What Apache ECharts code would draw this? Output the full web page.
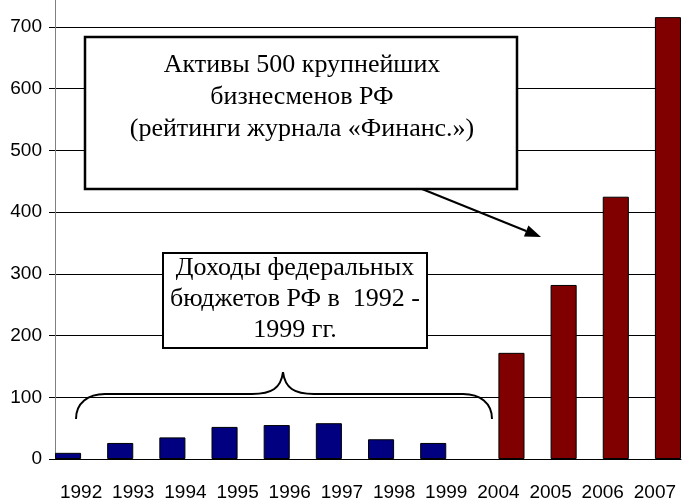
<!DOCTYPE html>
<html>
<head>
<meta charset="utf-8">
<script src="https://cdn.jsdelivr.net/npm/echarts@6/dist/echarts.min.js"></script>
<style>
  html, body { margin: 0; padding: 0; background: #fff; }
  #chart { width: 683px; height: 502px; }
</style>
</head>
<body>
<div id="chart"></div>
<script>
var years = ['1992', '1993', '1994', '1995', '1996', '1997', '1998', '1999', '2004', '2005', '2006', '2007'];
// доходы федерального бюджета, 1992-1999
var budget = [10, 26, 35, 52, 55, 58, 32, 26, '-', '-', '-', '-'];
// активы 500 крупнейших бизнесменов, 2004-2007
var assets = ['-', '-', '-', '-', '-', '-', '-', '-', 172, 282, 425, 716];

var chart = echarts.init(document.getElementById('chart'), null, { renderer: 'canvas' });

var ink = { stroke: '#000', lineWidth: 2, fill: null };

// arrow from the big box toward the red bars
function arrow(x1, y1, x2, y2) {
  var dx = x2 - x1, dy = y2 - y1;
  var len = Math.sqrt(dx * dx + dy * dy);
  var ux = dx / len, uy = dy / len;
  var bx = x2 - ux * 16, by = y2 - uy * 16;
  var px = -uy * 6, py = ux * 6;
  return [
    { type: 'line', z: 100, shape: { x1: x1, y1: y1, x2: bx, y2: by }, style: ink },
    { type: 'polygon', z: 100, shape: { points: [[x2, y2], [bx + px, by + py], [bx - px, by - py]] }, style: { fill: '#000' } }
  ];
}

function curve(x1, y1, c1x, c1y, c2x, c2y, x2, y2) {
  return { type: 'bezierCurve', z: 100, shape: { x1: x1, y1: y1, cpx1: c1x, cpy1: c1y, cpx2: c2x, cpy2: c2y, x2: x2, y2: y2 }, style: ink };
}
function seg(x1, y1, x2, y2) {
  return { type: 'line', z: 100, shape: { x1: x1, y1: y1, x2: x2, y2: y2 }, style: ink };
}

// curly brace over the blue bars
var brace = [
  curve(76, 419, 76, 403, 88, 394, 105, 394),
  seg(105, 394, 252, 394),
  curve(252, 394, 272, 394, 281, 388, 283, 372),
  curve(283, 372, 285, 388, 294, 394, 314, 394),
  seg(314, 394, 463, 394),
  curve(463, 394, 480, 394, 492, 403, 492, 419)
];

var serif = '"Liberation Serif", "Times New Roman", serif';
var sans = '"Liberation Sans", Arial, sans-serif';

var option = {
  animation: false,
  grid: { left: 55, right: 2, top: 27, bottom: 43 },
  xAxis: {
    type: 'category',
    data: years,
    axisLine: { lineStyle: { color: '#000', width: 1 } },
    axisTick: { length: 5, lineStyle: { color: '#000' } },
    axisLabel: { interval: 0, color: '#000', fontSize: 19, fontFamily: sans, margin: 24 }
  },
  yAxis: {
    type: 'value',
    min: 0,
    max: 700,
    interval: 100,
    axisLine: { show: true, lineStyle: { color: '#808080', width: 1 } },
    axisTick: { show: true, length: 6, lineStyle: { color: '#000' } },
    axisLabel: { color: '#000', fontSize: 19, fontFamily: sans, margin: 13 },
    splitLine: { lineStyle: { color: '#000', width: 1 } }
  },
  series: [
    {
      type: 'bar',
      data: budget,
      barGap: '0%',
      barCategoryGap: '0%',
      itemStyle: { color: '#000080', borderColor: '#000', borderWidth: 1 }
    },
    {
      type: 'bar',
      data: assets,
      clip: false,
      itemStyle: { color: '#800000', borderColor: '#000', borderWidth: 1 }
    }
  ],
  graphic: [
    // y axis runs on past 700
    { type: 'line', shape: { x1: 55.5, y1: 0, x2: 55.5, y2: 27 }, style: { stroke: '#808080', lineWidth: 1 } },
    {
      type: 'rect', z: 100,
      shape: { x: 85, y: 37, width: 432, height: 152 },
      style: { fill: '#fff', stroke: '#000', lineWidth: 2.5 }
    },
    {
      type: 'text', z: 101, x: 302, y: 49,
      style: {
        text: 'Активы 500 крупнейших\nбизнесменов РФ\n(рейтинги журнала «Финанс.»)',
        align: 'center', verticalAlign: 'top', font: '26px ' + serif, lineHeight: 32, fill: '#000'
      }
    },
    {
      type: 'rect', z: 100,
      shape: { x: 163, y: 253, width: 264, height: 95 },
      style: { fill: '#fff', stroke: '#000', lineWidth: 2 }
    },
    {
      type: 'text', z: 101, x: 295, y: 253,
      style: {
        text: 'Доходы федеральных\nбюджетов РФ в  1992 -\n1999 гг.',
        align: 'center', verticalAlign: 'top', font: '26px ' + serif, lineHeight: 31, fill: '#000'
      }
    }
  ].concat(brace, arrow(422, 189, 541, 237))
};

chart.setOption(option);
</script>
</body>
</html>
